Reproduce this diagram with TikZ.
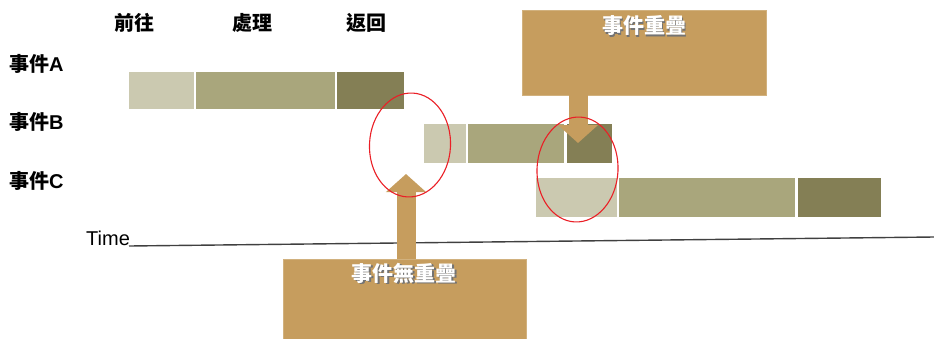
\documentclass[tikz,border=0pt]{standalone}
\usepackage{fontspec}
\setmainfont{Liberation Sans}
\newfontfamily\cjk{Noto Sans CJK TC}
\usetikzlibrary{arrows.meta,shapes.geometric}
\definecolor{seglight}{HTML}{CBC9B0}
\definecolor{segmid}{HTML}{A9A67C}
\definecolor{segdark}{HTML}{847F55}
\definecolor{boxc}{HTML}{C69D5E}
\definecolor{ringred}{HTML}{EA1F26}
\newcommand{\latb}[1]{{\rmfamily\bfseries #1}}
\begin{document}
\begin{tikzpicture}[x=1pt,y=-1pt,
  seg/.style={draw=white, line width=1pt, inner sep=0pt, outer sep=0pt},
  lbl/.style={font=\cjk\bfseries\fontsize{20}{24}\selectfont, inner sep=0pt, anchor=west},
  hdr/.style={font=\cjk\bfseries\fontsize{20}{24}\selectfont, inner sep=0pt},
  callout/.style={fill=boxc, draw=boxc!80!white, line width=0.6pt, inner sep=0pt, outer sep=0pt},
  ctext/.style={font=\cjk\bfseries\fontsize{21}{25}\selectfont, text=white, inner sep=0pt},
  cshadow/.style={font=\cjk\bfseries\fontsize{21}{25}\selectfont, text=black!55, inner sep=0pt},
  ring/.style={draw=ringred, line width=1.1pt, ellipse, inner sep=0pt},
  bigarrow/.style={draw=boxc, line width=19pt, -{Triangle[width=39pt,length=18pt]}}
]
\useasboundingbox (0,0) rectangle (934,338);
\clip (0,0) rectangle (934,338);

% headers
\node[hdr] (h1) at (134,23) {前往};
\node[hdr] (h2) at (252,23) {處理};
\node[hdr] (h3) at (366,23) {返回};

% row labels
\node[lbl] (la) at (9,64) {事件\latb{A}};
\node[lbl] (lb) at (9,122) {事件\latb{B}};
\node[lbl] (lc) at (9,181) {事件\latb{C}};

% event A
\node[seg, fill=seglight, minimum width=66, minimum height=38] (a1) at (161,90) {};
\node[seg, fill=segmid, minimum width=140, minimum height=38] (a2) at (265,90) {};
\node[seg, fill=segdark, minimum width=68, minimum height=38] (a3) at (370,90) {};
% event B
\node[seg, fill=seglight, minimum width=43, minimum height=40] (b1) at (444.5,143) {};
\node[seg, fill=segmid, minimum width=97, minimum height=40] (b2) at (516,143) {};
\node[seg, fill=segdark, minimum width=46, minimum height=40] (b3) at (589,143) {};
% event C
\node[seg, fill=seglight, minimum width=82, minimum height=40] (c1) at (576,197) {};
\node[seg, fill=segmid, minimum width=177, minimum height=40] (c2) at (707,197) {};
\node[seg, fill=segdark, minimum width=84, minimum height=40] (c3) at (839,197) {};

% time axis
\node[font=\fontsize{20}{23}\selectfont, inner sep=0pt, anchor=west] (time) at (86,238) {Time};
\coordinate (tl) at (129,246);
\coordinate (tr) at (934,237);
\draw[black!75, line width=1.4pt] (tl) -- (tr);

% callout boxes
\node[callout, minimum width=244, minimum height=85] (top) at (644,52.5) {};
\node[callout, minimum width=243, minimum height=100] (bot) at (404.5,309) {};
\coordinate (dtip) at (578,143);
\coordinate (utip) at (406,174);
\draw[bigarrow] (top.south -| dtip) -- (dtip);
\draw[bigarrow] (bot.north -| utip) -- (utip);

\node[cshadow] (t1s) at (645.5,27.5) {事件重疊};
\node[ctext] (t1) at (644,26) {事件重疊};
\node[cshadow] (t2s) at (405.5,274.5) {事件無重疊};
\node[ctext] (t2) at (404,273) {事件無重疊};

% red rings
\node[ring, minimum width=81, minimum height=104, rotate=-3] (e1) at (410,145) {};
\node[ring, minimum width=81, minimum height=105, rotate=-3] (e2) at (577.5,169.5) {};
\end{tikzpicture}
\end{document}
